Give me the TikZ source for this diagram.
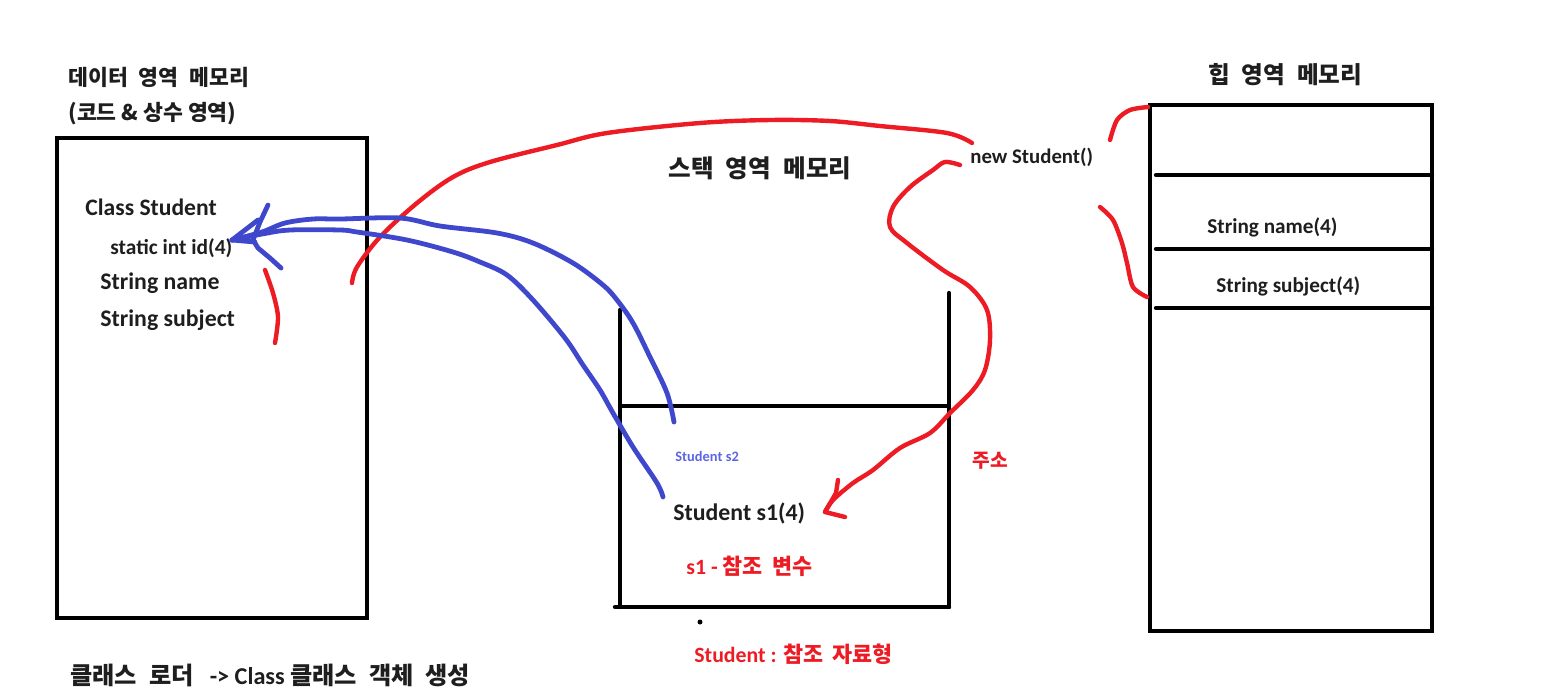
\documentclass[tikz,border=0pt]{standalone}
\usepackage{fontspec}
\setmainfont{Carlito}
\newfontfamily\krfont{Noto Sans CJK KR}
\usetikzlibrary{positioning}
\definecolor{penred}{RGB}{237,28,36}
\definecolor{penblue}{RGB}{63,72,204}
\definecolor{softblue}{RGB}{92,102,228}
\definecolor{inkgray}{RGB}{30,30,30}
\newcommand{\fsz}[1]{\fontsize{#1}{#1}\selectfont\bfseries}
\newcommand{\kgap}{\hspace{0.5em}}
\tikzset{
  memtext/.style={anchor=west,inner sep=0pt,text=inkgray},
  redtext/.style={memtext,text=penred},
  wall/.style={draw=black,line width=2.2pt,line cap=round},
  redpen/.style={draw=penred,line width=2.2pt,line cap=round,line join=round},
  bluepen/.style={draw=penblue,line width=2.4pt,line cap=round,line join=round}
}

\begin{document}
\begin{tikzpicture}[x=0.5pt,y=-0.5pt]
  \useasboundingbox (0,0) rectangle (1549,693);

  % data area
  \node[memtext,font=\fsz{10.8}] (datattl) at (68,77) {\krfont 데이터\kgap 영역\kgap 메모리};
  \node[memtext,font=\fsz{10.8}] (datasub) at (68,114) {\krfont (코드 \& 상수 영역)};
  \draw[wall] (57,138) rectangle (367,618);
  \node[memtext,font=\fsz{11.8}] (cls) at (85,207) {Class Student};
  \node[memtext,font=\fsz{10.7}] (sid) at (110,248) {static int id(4)};
  \node[memtext,font=\fsz{11.9}] (sname) at (100,283) {String name};
  \node[memtext,font=\fsz{11.9}] (ssubj) at (100,320) {String subject};
  \node[memtext,font=\fsz{12.1}] (loader) at (70,675)
    {{\krfont 클래스\kgap 로더}\hspace{8pt}-> Class {\krfont 클래스\kgap 객체\kgap 생성}};

  % stack area
  \node[memtext,font=\fsz{12.3}] (stackttl) at (668,168) {\krfont 스택\kgap 영역\kgap 메모리};
  \draw[wall] (620,310) -- (620,607);
  \draw[wall] (949,293) -- (949,607);
  \draw[wall] (615,607) -- (949,607);
  \draw[wall] (620,406) -- (949,406);
  \fill (700,622) circle (2.5);
  \node[memtext,font=\fsz{7.2},text=softblue] (s2) at (675,456) {Student s2};
  \node[memtext,font=\fsz{11.9}] (s1) at (673,513) {Student s1(4)};
  \node[redtext,font=\fsz{10.9}] (refvar) at (686,566) {s1 - {\krfont 참조\hspace{0.45em}변수}};
  \node[redtext,font=\fsz{10.9}] (reftype) at (694,654) {Student : {\krfont 참조\hspace{0.4em}자료형}};
  \node[redtext,font=\fsz{9.6}] (addr) at (972,461) {\krfont 주소};

  % heap area
  \node[memtext,font=\fsz{10.4}] (newobj) at (970,157) {new Student()};
  \node[memtext,font=\fsz{11.8}] (heapttl) at (1208,75) {\krfont 힙\kgap 영역\kgap 메모리};
  \draw[wall] (1150,105) rectangle (1432,631);
  \draw[wall] (1156,175) -- (1432,175);
  \draw[wall] (1156,249) -- (1432,249);
  \draw[wall] (1156,308) -- (1432,308);
  \node[memtext,font=\fsz{10.6}] (hname) at (1207,227) {String name(4)};
  \node[memtext,font=\fsz{10.6}] (hsubj) at (1216,286) {String subject(4)};

  \coordinate (clsin) at (352,283);
  \coordinate (newin) at (972,143);
  \coordinate (newout) at (960,165);
  \coordinate (s1tip) at (825,512);
  \coordinate (idtip) at (232,240);
  \coordinate (s2out) at (674,422);
  \coordinate (s1out) at (663,497);

  % red strokes
  \draw[redpen] plot[smooth,tension=0.55] coordinates {(clsin) (357,267) (380,237) (417,203) (453,177)
    (490,162) (557,145) (607,133) (700,123) (770,120) (830,121) (880,126) (947,133) (newin)};
  \draw[redpen] plot[smooth,tension=0.55] coordinates {(newout) (945,162) (933,170) (910,187) (893,207)
    (890,227) (907,243) (943,270) (970,287) (987,310) (990,340) (985,370) (973,390) (950,413)
    (930,433) (900,448) (873,470) (853,483) (833,500) (s1tip)};
  \draw[redpen] (838,480) -- (836,493) -- (s1tip) -- (833,514) -- (845,517);
  \draw[redpen] plot[smooth] coordinates {(265,270) (273,293) (278,317) (275,343)};
  \draw[redpen] plot[smooth] coordinates {(1110,140) (1117,120) (1130,110) (1148,107)};
  \draw[redpen] plot[smooth] coordinates {(1100,207) (1113,220) (1122,243) (1127,263) (1133,287) (1147,297)};

  % blue strokes
  \draw[bluepen] plot[smooth,tension=0.55] coordinates {(s2out) (667,393) (650,357) (633,323) (617,300)
    (603,285) (573,263) (533,243) (497,233) (440,226) (400,218) (340,219) (313,219) (285,223)
    (262,232) (idtip)};
  \draw[bluepen] plot[smooth,tension=0.55] coordinates {(s1out) (657,483) (633,447) (613,413) (600,390)
    (583,365) (565,338) (533,300) (507,275) (480,262) (453,252) (407,240) (357,232) (340,230)
    (290,230) (262,234) (idtip)};
  \draw[bluepen] (268,205) -- (260,222) -- (253,240) -- (258,248) -- (270,258) -- (281,268);
  \draw[bluepen] (idtip) -- (258,220);
  \draw[bluepen] (idtip) -- (255,242);
\end{tikzpicture}
\end{document}
